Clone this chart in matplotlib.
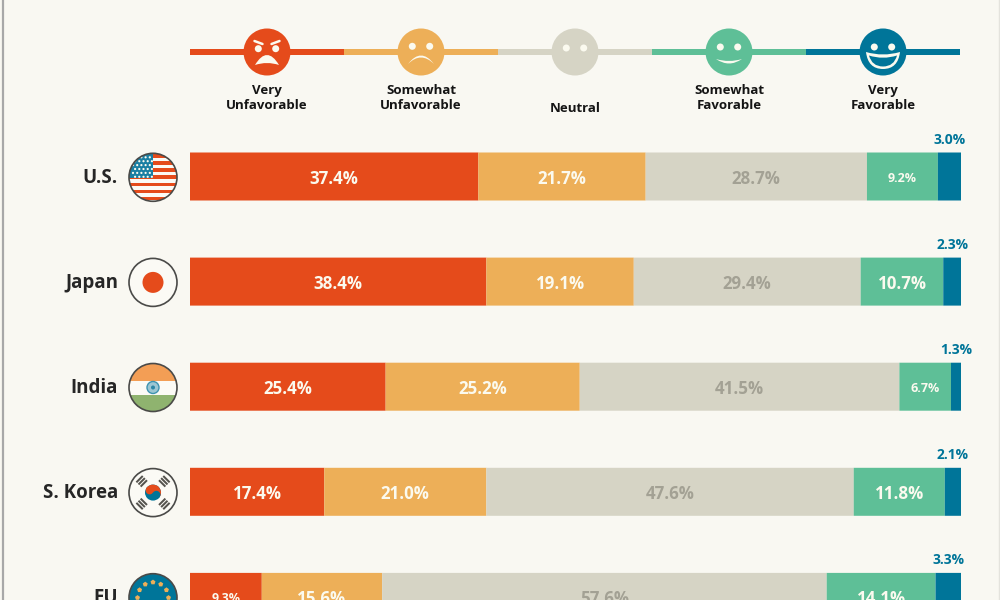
#!/usr/bin/env python3
import matplotlib
matplotlib.use("Agg")
import matplotlib.pyplot as plt
from matplotlib.patches import Circle, PathPatch, Rectangle, RegularPolygon
from matplotlib.path import Path as MplPath
from matplotlib.transforms import Affine2D
import numpy as np

countries = ["U.S.", "Japan", "India", "S. Korea", "EU"]
sentiments = ["Very\nUnfavorable", "Somewhat\nUnfavorable", "Neutral", "Somewhat\nFavorable", "Very\nFavorable"]
very_unfavorable = [37.4, 38.4, 25.4, 17.4, 9.3]
somewhat_unfavorable = [21.7, 19.1, 25.2, 21.0, 15.6]
neutral = [28.7, 29.4, 41.5, 47.6, 57.6]
somewhat_favorable = [9.2, 10.7, 6.7, 11.8, 14.1]
very_favorable = [3.0, 2.3, 1.3, 2.1, 3.3]

BG = "#F9F8F2"
CREAM = "#FBFAEF"
DARK = "#262626"
RED = "#E54B1B"
ORANGE = "#EDAF58"
GREY = "#D6D4C5"
GREEN = "#5EBF97"
BLUE = "#007599"
colors = [RED, ORANGE, GREY, GREEN, BLUE]
FONT = ["Open Sans", "DejaVu Sans"]


def curve(ax, points, **kwargs):
    # closed or open shape from quadratic segments: start, ctrl, end, ctrl, end...
    codes = [MplPath.MOVETO] + [MplPath.CURVE3] * (len(points) - 1)
    ax.add_patch(PathPatch(MplPath(points, codes), **kwargs))


def eyes(ax, cx, cy, dy, r=3.5):
    for side in (-1, 1):
        ax.add_patch(Circle((cx + side * 8.7, cy + dy), r, color=CREAM, lw=0, zorder=4))


def draw_face(ax, kind, cx, cy):
    ax.add_patch(Circle((cx, cy), 23.5, color=colors[kind], lw=0, zorder=3))
    if kind == 0:
        eyes(ax, cx, cy, -3.3)
        for side in (-1, 1):
            ax.plot([cx + side * 12.5, cx + side * 4.5], [cy - 11, cy - 8], color=CREAM, lw=1.8,
                    solid_capstyle="round", zorder=4)
        curve(ax, [(cx - 12, cy + 13), (cx, cy - 7), (cx + 12, cy + 13), (cx, cy + 9), (cx - 12, cy + 13)],
              facecolor=CREAM, edgecolor="none", zorder=4)
    elif kind == 1:
        eyes(ax, cx, cy, -5.7)
        curve(ax, [(cx - 13, cy + 12), (cx, cy - 5), (cx + 13, cy + 12), (cx, cy - 1), (cx - 13, cy + 12)],
              facecolor=CREAM, edgecolor="none", zorder=4)
    elif kind == 2:
        eyes(ax, cx, cy, -4)
    elif kind == 3:
        eyes(ax, cx, cy, -5)
        curve(ax, [(cx - 13, cy + 7), (cx, cy + 11), (cx + 13, cy + 7), (cx, cy + 16), (cx - 13, cy + 7)],
              facecolor=CREAM, edgecolor="none", zorder=4)
    else:
        eyes(ax, cx, cy, -5)
        curve(ax, [(cx - 17, cy), (cx, cy + 5), (cx + 17, cy), (cx + 15, cy + 17), (cx, cy + 17), (cx - 15, cy + 17),
                   (cx - 17, cy)], facecolor=CREAM, edgecolor="none", zorder=4)
        curve(ax, [(cx - 14, cy + 3.5), (cx, cy + 8), (cx + 14, cy + 3.5), (cx + 11, cy + 14.5), (cx, cy + 14.5),
                   (cx - 11, cy + 14.5), (cx - 14, cy + 3.5)], facecolor=BLUE, edgecolor="none", zorder=5)


def draw_flag(ax, name, cx, cy):
    r = 24
    clip = Circle((cx, cy), r, transform=ax.transData)
    artists = []
    ax.add_patch(Circle((cx, cy), r, facecolor="#FBFAF5", edgecolor="none", zorder=3))
    if name == "U.S.":
        for i in range(7):
            artists.append(Rectangle((cx - r, cy - r + 1 + i * 7.05), 2 * r, 3.5, color=RED, lw=0))
        artists.append(Rectangle((cx - r, cy - r), r, r + 1, color="#1B7FA3", lw=0))
        for row in range(6):
            for col in range(5):
                artists.append(Circle((cx - 20 + col * 4.2 + (row % 2) * 2.1, cy - 20 + row * 3.9), 1.1,
                                      color=CREAM, lw=0))
    elif name == "Japan":
        artists.append(Circle((cx, cy), 10.5, color=RED, lw=0))
    elif name == "India":
        artists.append(Rectangle((cx - r, cy - r), 2 * r, 17, color="#F39E55", lw=0))
        artists.append(Rectangle((cx - r, cy + 7.5), 2 * r, 17, color="#8FB36F", lw=0))
        artists.append(Circle((cx, cy), 6, facecolor="#9CC6D3", edgecolor="#3E93B0", lw=1))
        artists.append(Circle((cx, cy), 2, color="#2C86A5", lw=0))
    elif name == "S. Korea":
        tilt = 33.7
        lobe_x, lobe_y = 4 * np.cos(np.radians(tilt)), 4 * np.sin(np.radians(tilt))
        artists.append(Circle((cx, cy), 8, color=BLUE, lw=0))
        artists.append(PathPatch(MplPath.wedge(180, 360).transformed(
            Affine2D().scale(8).rotate_deg(tilt).translate(cx, cy)), color=RED, lw=0))
        artists.append(Circle((cx - lobe_x, cy - lobe_y), 4, color=RED, lw=0))
        artists.append(Circle((cx + lobe_x, cy + lobe_y), 4, color=BLUE, lw=0))
        for ang in (45, 135, 225, 315):
            dx, dy = np.cos(np.radians(ang)), np.sin(np.radians(ang))
            for off in (-3, 0, 3):
                px, py = cx + dx * (16 + off), cy + dy * (16 + off)
                artists.append(Rectangle((-4.5, -1), 9, 2, color="#55534E", lw=0,
                                         transform=Affine2D().rotate_deg(ang + 90).translate(px, py) + ax.transData))
    else:
        artists.append(Circle((cx, cy), r, color=BLUE, lw=0))
        for i in range(12):
            ang = np.radians(i * 30)
            artists.append(RegularPolygon((cx + 15.5 * np.sin(ang), cy - 15.5 * np.cos(ang)), 5, radius=2.6,
                                          orientation=np.pi, color=ORANGE, lw=0))
    for artist in artists:
        artist.set_zorder(3.5)
        ax.add_patch(artist)
        artist.set_clip_path(clip)
    ax.add_patch(Circle((cx, cy), r, facecolor="none", edgecolor="#4A4A48", lw=1.2, zorder=4))


def main() -> int:
    fig = plt.figure(figsize=(10, 6), dpi=100, facecolor=BG)

    # pixel-space layer for legend, flags and names
    deco = fig.add_axes([0, 0, 1, 1])
    deco.set_xlim(0, 1000)
    deco.set_ylim(600, 0)
    deco.axis("off")

    # bars: x runs 0-100 percent, y stays in pixels so rows line up with flags
    ax = fig.add_axes([0.19, 0, 0.771, 1])
    ax.set_xlim(0, 100)
    ax.set_ylim(600, 0)
    ax.axis("off")
    ax.patch.set_alpha(0)

    deco.plot([2.5, 2.5], [0, 600], color="#A8A8A8", lw=1.6)
    deco.plot([998.5, 998.5], [0, 600], color="#E4E3DD", lw=1)

    for i, label in enumerate(sentiments):
        deco.add_patch(Rectangle((190 + i * 154, 49), 154, 6, color=colors[i], lw=0))
        draw_face(deco, i, 267 + i * 154, 52)
        y = 108 if label == "Neutral" else 98
        deco.text(267 + i * 154, y, label, ha="center", va="center", family=FONT, fontweight="bold",
                  fontsize=9.5, color="#151515", linespacing=1.12)

    series = [very_unfavorable, somewhat_unfavorable, neutral, somewhat_favorable, very_favorable]
    rows = 176.5 + 105.1 * np.arange(len(countries))
    totals = np.sum(series, axis=0)
    left = np.zeros(len(countries))
    for s, (values, color) in enumerate(zip(series, colors)):
        values = np.array(values)
        # rows add up to 99.9-100.1, the bars all end flush at 100
        widths = values / totals * 100
        ax.barh(rows, widths, height=48, left=left, color=color, lw=0, zorder=2, snap=False)
        for y, start, width, value in zip(rows, left, widths, values):
            mid = start + width / 2
            text = f"{value:.1f}%"
            if s == 4:
                ax.text(mid, y - 36.5, text, ha="center", va="center", family=FONT, fontweight="bold",
                        fontsize=10, color=BLUE)
            else:
                small = width < 9.5 and s in (0, 3)
                ax.text(mid, y + 2, text, ha="center", va="center", family=FONT, fontweight="bold",
                        fontsize=9 if small else 12.2, color="#A3A194" if s == 2 else CREAM, zorder=3)
        left = left + widths

    for name, y in zip(countries, rows):
        deco.text(118, y + 1.5, name, ha="right", va="center", family=FONT, fontweight="bold",
                  fontsize=13.5, color=DARK)
        draw_flag(deco, name, 153, y + 0.8)

    fig.savefig("out.png", dpi=100, facecolor=BG)
    plt.close(fig)
    return 0


if __name__ == "__main__":
    raise SystemExit(main())
